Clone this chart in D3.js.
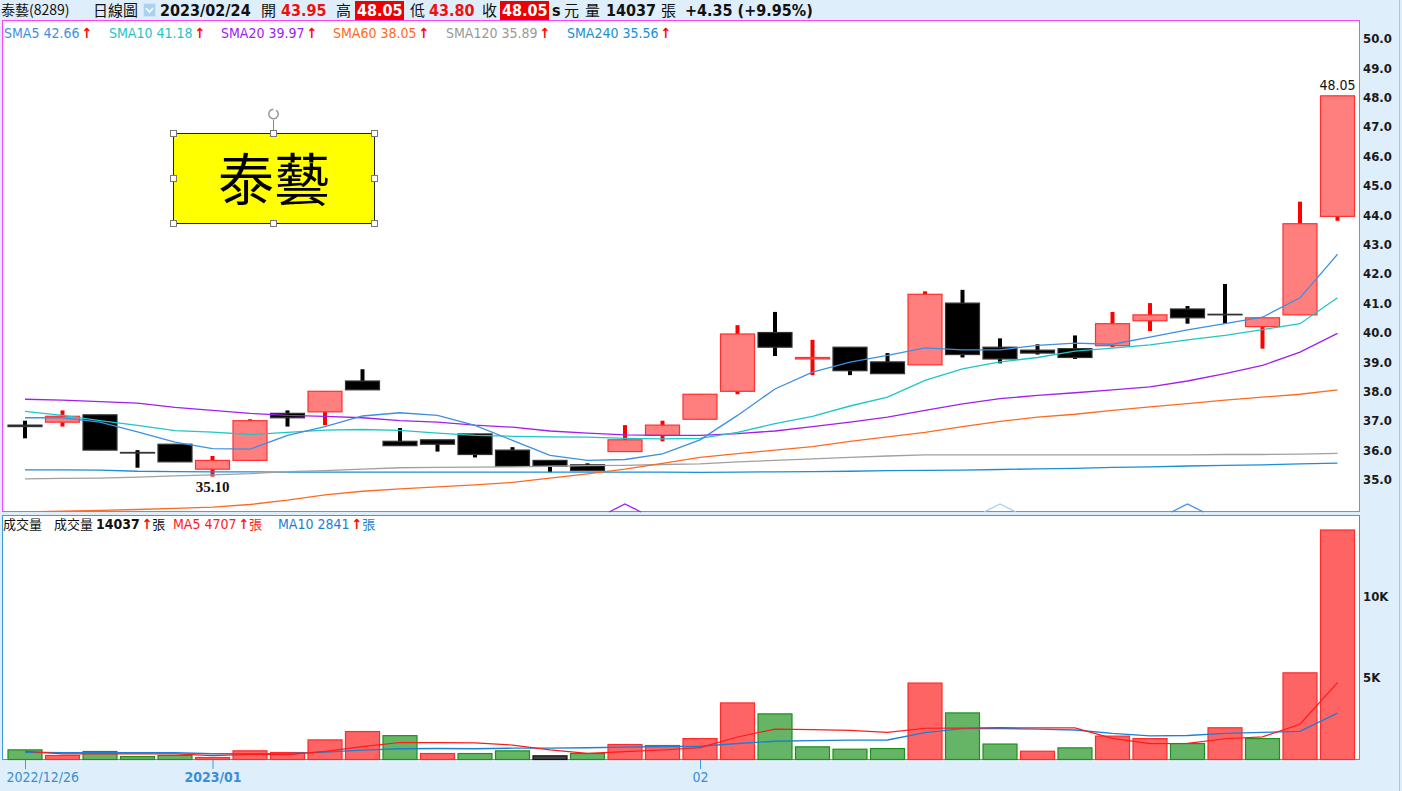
<!DOCTYPE html>
<meta charset="utf-8">
<title>泰藝(8289) 日線圖</title>
<style>
  body { margin: 0; background: #deeefa; }
  text { font-family: "DejaVu Sans Condensed", "DejaVu Sans", sans-serif; font-stretch: condensed; }
  text.cjk, tspan.cjk { font-family: "Noto Sans CJK TC", sans-serif; font-stretch: normal; }
  .axis path.domain { display: none; }
</style>
<body>
<script src="https://cdn.jsdelivr.net/npm/d3@7"></script>
<script>
var dates = ["2022/12/26","2022/12/27","2022/12/28","2022/12/29","2022/12/30",
  "2023/01/03","2023/01/04","2023/01/05","2023/01/06","2023/01/09","2023/01/10","2023/01/11",
  "2023/01/12","2023/01/13","2023/01/16","2023/01/17","2023/01/30","2023/01/31",
  "2023/02/01","2023/02/02","2023/02/03","2023/02/06","2023/02/07","2023/02/08","2023/02/09",
  "2023/02/10","2023/02/13","2023/02/14","2023/02/15","2023/02/16","2023/02/17","2023/02/20",
  "2023/02/21","2023/02/22","2023/02/23","2023/02/24"];

var open  = [36.85,36.95,37.2,35.92,36.2,35.35,35.65,37.25,37.3,38.35,36.3,36.35,36.55,36.0,35.65,35.5,35.95,36.5,
             37.05,38.0,40.0,39.1,39.5,39.0,38.9,41.0,39.5,39.4,39.45,39.55,40.4,40.8,40.62,40.2,40.6,43.95];
var high  = [37.0,37.35,37.2,36.0,36.2,35.8,37.05,37.35,38.0,38.75,36.75,36.35,36.55,36.1,35.65,35.55,36.85,37.0,
             37.9,40.25,40.7,39.75,39.5,39.3,41.4,41.45,39.8,39.6,39.9,40.7,41.0,40.9,41.65,40.5,44.45,48.05];
var low   = [36.4,36.8,36.0,35.4,35.6,35.1,35.65,36.8,36.85,38.05,36.15,35.95,35.75,35.45,35.25,35.3,35.95,36.3,
             37.05,37.9,39.2,38.55,38.55,38.6,38.9,39.15,38.95,39.25,39.1,39.5,40.05,40.3,40.3,39.45,40.6,43.8];
var close = [36.8,37.15,36.0,35.9,35.6,35.65,37.0,37.1,38.0,38.05,36.15,36.2,35.85,35.45,35.45,35.3,36.35,36.85,
             37.9,39.95,39.5,39.15,38.7,38.6,41.3,39.25,39.1,39.3,39.15,40.3,40.6,40.5,40.6,40.5,43.7,48.05];
var prevClose = 36.9;

var volume = [590,245,490,180,245,120,530,425,1200,1710,1460,365,365,530,225,365,915,855,
              1280,3460,2790,775,630,670,4675,2850,945,505,713,1430,1280,975,1940,1280,5300,14037];

var sma5   = [37.1,37.1,36.95,36.62,36.27,36.05,36.03,36.5,36.8,37.16,37.27,37.18,36.84,36.33,35.82,35.65,35.68,35.87,
              36.35,37.18,38.08,38.65,38.99,39.22,39.48,39.41,39.41,39.56,39.64,39.6,39.84,40.09,40.3,40.52,41.18,42.66];
var sma10  = [37.32,37.18,37.0,36.84,36.66,36.61,36.53,36.6,36.68,36.7,36.67,36.58,36.5,36.47,36.45,36.44,36.4,36.38,
              36.4,36.6,36.9,37.15,37.5,37.8,38.37,38.76,39.0,39.15,39.37,39.47,39.58,39.75,39.9,40.1,40.3,41.18];
var sma20  = [37.73,37.7,37.65,37.6,37.45,37.35,37.25,37.18,37.15,37.1,37.0,36.95,36.85,36.78,36.65,36.58,36.52,36.5,
              36.5,36.56,36.65,36.8,36.95,37.12,37.35,37.57,37.75,37.86,37.95,38.05,38.15,38.35,38.6,38.88,39.33,39.97];
var sma60  = [33.9,33.92,33.95,33.98,34.02,34.06,34.15,34.3,34.48,34.6,34.68,34.75,34.82,34.9,35.05,35.19,35.35,35.55,
              35.75,35.88,36.0,36.12,36.3,36.45,36.6,36.8,36.98,37.12,37.22,37.35,37.47,37.58,37.7,37.8,37.9,38.05];
var sma120 = [35.02,35.04,35.05,35.08,35.12,35.16,35.2,35.27,35.3,35.35,35.4,35.41,35.42,35.43,35.45,35.47,35.48,35.51,
              35.53,35.6,35.65,35.7,35.75,35.8,35.84,35.84,35.84,35.84,35.84,35.84,35.84,35.84,35.85,35.85,35.86,35.89];
var sma240 = [35.33,35.33,35.32,35.28,35.27,35.26,35.26,35.25,35.25,35.25,35.25,35.25,35.25,35.25,35.25,35.25,35.25,35.25,
              35.24,35.25,35.26,35.27,35.28,35.3,35.31,35.32,35.34,35.36,35.38,35.41,35.43,35.46,35.48,35.5,35.53,35.56];

var volMa5  = [505,350,350,350,350,240,310,300,500,790,1040,1030,1020,885,590,370,480,580,
               730,1375,1860,1830,1785,1665,1910,1920,1954,1929,1938,1289,975,981,1268,1381,2155,4707];
var volMa10 = [445,410,410,410,410,350,350,350,450,574,661,673,660,695,693,718,756,799,
               807,982,1115,1156,1183,1197,1642,1890,1893,1858,1801,1598,1447,1467,1598,1659,1722,2841];

var smaNames  = ["SMA5","SMA10","SMA20","SMA60","SMA120","SMA240"];
var smaColors = ["#3f8fe0","#1fc6c6","#a020f0","#ff6a22","#a0a0a0","#1a8ed6"];
var markerIdx = [16, 26, 31];
var markerColors = ["#a020f0","#9fd4f5","#3f8fe0"];
var xTicks = ["2022/12/26","2023/01/03","2023/02/01"];
var xTickLabels = ["2022/12/26","2023/01","02"];

var W = 1402, H = 791;
var svg = d3.select("body").append("svg").attr("width", W).attr("height", H);

svg.append("rect").attr("width", W).attr("height", H).attr("fill", "#deeefa");
svg.append("line").attr("x1", 1399.5).attr("x2", 1399.5).attr("y1", 0).attr("y2", H).attr("stroke", "#b8c4cc");

// panels
svg.append("rect").attr("x", 2.5).attr("y", 20.5).attr("width", 1357).attr("height", 491)
  .attr("fill", "#fff").attr("stroke", "#ff40ff");
svg.append("rect").attr("x", 2.5).attr("y", 515.5).attr("width", 1357).attr("height", 244)
  .attr("fill", "#fff").attr("stroke", "#3b9be0");

svg.append("clipPath").attr("id", "pclip").append("rect")
  .attr("x", 3).attr("y", 21).attr("width", 1356).attr("height", 490);

var x = d3.scalePoint().domain(dates).range([25, 1337.5]);
var y = d3.scaleLinear().domain([35, 50]).range([479.5, 38.5]);
var yv = d3.scaleLinear().domain([0, 10000]).range([759.5, 596]);
var bw = 34;

var idx = d3.range(dates.length);
var up = function(i) { return close[i] >= open[i]; };

// candles
var price = svg.append("g").attr("clip-path", "url(#pclip)");
var candles = price.selectAll("g.candle").data(idx).join("g").attr("class", "candle");

candles.append("line")
  .attr("x1", function(i) { return x(dates[i]); })
  .attr("x2", function(i) { return x(dates[i]); })
  .attr("y1", function(i) { return y(high[i]); })
  .attr("y2", function(i) { return y(low[i]); })
  .attr("stroke", function(i) { return up(i) ? "#ff0000" : "#000"; })
  .attr("stroke-width", 4);

candles.append("rect")
  .attr("x", function(i) { return x(dates[i]) - bw / 2; })
  .attr("y", function(i) { return y(Math.max(open[i], close[i])); })
  .attr("width", bw)
  .attr("height", function(i) { return Math.max(0.5, Math.abs(y(open[i]) - y(close[i]))); })
  .attr("fill", function(i) { return up(i) ? "#ff7f7f" : "#000"; })
  .attr("stroke", function(i) { return up(i) ? "#ff3030" : "#333"; })
  .attr("stroke-width", 1.2);

// moving averages
var smaSeries = [sma5, sma10, sma20, sma60, sma120, sma240];
var line = d3.line().x(function(d, i) { return x(dates[i]); }).y(function(d) { return y(d); });
price.selectAll("path.sma").data(smaSeries.slice().reverse()).join("path")
  .attr("class", "sma")
  .attr("d", line)
  .attr("fill", "none")
  .attr("stroke", function(d, k) { return smaColors.slice().reverse()[k]; })
  .attr("stroke-width", 1.3);

// signal markers at panel bottom
svg.selectAll("path.mark").data(markerIdx).join("path")
  .attr("class", "mark")
  .attr("d", function(i) { var cx = x(dates[i]); return "M" + (cx - 16) + ",512L" + cx + ",504L" + (cx + 16) + ",512"; })
  .attr("fill", "none")
  .attr("stroke", function(d, k) { return markerColors[k]; })
  .attr("stroke-width", 1.3);

// high / low labels
var iHi = d3.maxIndex(high), iLo = d3.minIndex(low);
svg.append("text").attr("x", x(dates[iHi])).attr("y", y(high[iHi]) - 6)
  .attr("text-anchor", "middle").attr("font-size", 14).attr("fill", "#111").text(high[iHi].toFixed(2));
svg.append("text").attr("x", x(dates[iLo])).attr("y", y(low[iLo]) + 15)
  .attr("text-anchor", "middle").attr("font-size", 15).attr("font-weight", "bold")
  .style("font-family", "'Liberation Serif', serif").attr("fill", "#111").text(low[iLo].toFixed(2));

// price axis
var yAxis = svg.append("g").attr("class", "axis").attr("transform", "translate(1360,0)")
  .call(d3.axisRight(y).tickValues(d3.range(35, 50.5, 1)).tickFormat(d3.format(".1f")).tickSize(0).tickPadding(3));
yAxis.selectAll("text").attr("font-size", 13).attr("font-weight", "bold").attr("fill", "#1a1a1a")
  .style("font-family", "'DejaVu Sans Condensed','DejaVu Sans',sans-serif");

// volume bars
var vcol = function(i) {
  var p = i === 0 ? prevClose : close[i - 1];
  return close[i] > p ? "up" : (close[i] < p ? "down" : "flat");
};
var vfill = { up: "#ff6464", down: "#66b466", flat: "#444" };
var vstroke = { up: "#ff2a2a", down: "#1e901e", flat: "#111" };
svg.append("g").selectAll("rect").data(idx).join("rect")
  .attr("x", function(i) { return x(dates[i]) - bw / 2; })
  .attr("y", function(i) { return yv(volume[i]); })
  .attr("width", bw)
  .attr("height", function(i) { return yv(0) - yv(volume[i]); })
  .attr("fill", function(i) { return vfill[vcol(i)]; })
  .attr("stroke", function(i) { return vstroke[vcol(i)]; })
  .attr("stroke-width", 1.2);

var vline = d3.line().x(function(d, i) { return x(dates[i]); }).y(function(d) { return yv(d); });
svg.append("path").attr("d", vline(volMa10)).attr("fill", "none").attr("stroke", "#1c7fd2").attr("stroke-width", 1.4);
svg.append("path").attr("d", vline(volMa5)).attr("fill", "none").attr("stroke", "#ff1a1a").attr("stroke-width", 1.2);

var vAxis = svg.append("g").attr("class", "axis").attr("transform", "translate(1360,0)")
  .call(d3.axisRight(yv).tickValues([5000, 10000]).tickFormat(function(d) { return d / 1000 + "K"; }).tickSize(0).tickPadding(3));
vAxis.selectAll("text").attr("font-size", 13).attr("font-weight", "bold").attr("fill", "#1a1a1a");

// time axis
var xAxis = svg.append("g").attr("class", "axis").attr("transform", "translate(0,760)")
  .call(d3.axisBottom(x).tickValues(xTicks).tickFormat(function(d, k) { return xTickLabels[k]; }).tickSize(9).tickPadding(3));
xAxis.selectAll("line").attr("stroke", "#3b9be0");
xAxis.selectAll("text").attr("font-size", 14).attr("fill", "#3a8fd6")
  .attr("font-weight", function(d, k) { return k === 1 ? "bold" : "normal"; });
xAxis.selectAll("text").filter(function(d, k) { return k === 0; })
  .attr("text-anchor", "start").attr("x", 6 - x(xTicks[0]));

// header
var hdr = svg.append("g").attr("font-size", 16);
hdr.append("text").attr("class", "cjk").attr("x", 1).attr("y", 15).attr("font-size", 14).attr("fill", "#111").text("泰藝(8289)");
hdr.append("text").attr("class", "cjk").attr("x", 93).attr("y", 16).attr("font-size", 15).attr("fill", "#111").text("日線圖");
hdr.append("rect").attr("x", 143.5).attr("y", 3.5).attr("width", 12).attr("height", 13).attr("fill", "#a9d2f2").attr("stroke", "#cfe6f8");
hdr.append("path").attr("d", "M146,8L149.5,12L153,8").attr("fill", "none").attr("stroke", "#fff").attr("stroke-width", 1.5);

var last = dates.length - 1;
var chg = close[last] - close[last - 1];
var f2 = d3.format(".2f");
hdr.append("text").attr("x", 160).attr("y", 16).attr("font-weight", "bold").attr("fill", "#111").text(dates[last]);
hdr.append("text").attr("class", "cjk").attr("x", 261).attr("y", 16).attr("font-size", 15).attr("fill", "#111").text("開");
hdr.append("text").attr("x", 281).attr("y", 16).attr("font-weight", "bold").attr("fill", "#ee1111").text(f2(open[last]));
hdr.append("text").attr("class", "cjk").attr("x", 336).attr("y", 16).attr("font-size", 15).attr("fill", "#111").text("高");
hdr.append("rect").attr("x", 355).attr("y", 1).attr("width", 49).attr("height", 19).attr("fill", "#ee0000");
hdr.append("text").attr("x", 357).attr("y", 16).attr("font-weight", "bold").attr("fill", "#fff").text(f2(high[last]));
hdr.append("text").attr("class", "cjk").attr("x", 410).attr("y", 16).attr("font-size", 15).attr("fill", "#111").text("低");
hdr.append("text").attr("x", 429).attr("y", 16).attr("font-weight", "bold").attr("fill", "#ee1111").text(f2(low[last]));
hdr.append("text").attr("class", "cjk").attr("x", 482).attr("y", 16).attr("font-size", 15).attr("fill", "#111").text("收");
hdr.append("rect").attr("x", 500).attr("y", 1).attr("width", 49).attr("height", 19).attr("fill", "#ee0000");
hdr.append("text").attr("x", 502).attr("y", 16).attr("font-weight", "bold").attr("fill", "#fff").text(f2(close[last]));
hdr.append("text").attr("x", 552).attr("y", 16).attr("font-weight", "bold").attr("fill", "#111").text("s");
hdr.append("text").attr("class", "cjk").attr("x", 564).attr("y", 16).attr("font-size", 15).attr("fill", "#111").text("元");
hdr.append("text").attr("class", "cjk").attr("x", 585).attr("y", 16).attr("font-size", 15).attr("fill", "#111").text("量");
hdr.append("text").attr("x", 606).attr("y", 16).attr("font-weight", "bold").attr("fill", "#111").text(volume[last]);
hdr.append("text").attr("class", "cjk").attr("x", 661).attr("y", 16).attr("font-size", 15).attr("fill", "#111").text("張");
hdr.append("text").attr("x", 685).attr("y", 16).attr("font-weight", "bold").attr("fill", "#111")
  .text("+" + f2(chg) + " (+" + f2(chg / close[last - 1] * 100) + "%)");

// SMA legend
var legX = [4, 109, 221, 333, 446, 567];
var leg = svg.append("g").attr("font-size", 14);
smaNames.forEach(function(n, k) {
  var t = leg.append("text").attr("x", legX[k]).attr("y", 38).attr("fill", smaColors[k] === "#a0a0a0" ? "#999" : smaColors[k]);
  t.append("tspan").text(n + " " + f2(smaSeries[k][last]));
  t.append("tspan").attr("fill", "#ff0000").attr("font-weight", "bold").attr("dx", 2).text("↑");
});

// volume legend
var vl = svg.append("g").attr("font-size", 14);
vl.append("text").attr("class", "cjk").attr("x", 3).attr("y", 529).attr("font-size", 13).attr("fill", "#111").text("成交量");
var t1 = vl.append("text").attr("x", 54).attr("y", 529).attr("fill", "#111");
t1.append("tspan").attr("class", "cjk").attr("font-size", 13).text("成交量 ");
t1.append("tspan").attr("font-weight", "bold").text(volume[last]);
t1.append("tspan").attr("fill", "#ff0000").attr("font-weight", "bold").attr("dx", 2).text("↑");
t1.append("tspan").attr("class", "cjk").attr("font-size", 13).text("張");
var t2 = vl.append("text").attr("x", 173).attr("y", 529).attr("fill", "#ff1a1a");
t2.append("tspan").text("MA5 " + volMa5[last]);
t2.append("tspan").attr("font-weight", "bold").attr("dx", 2).text("↑");
t2.append("tspan").attr("class", "cjk").attr("font-size", 13).text("張");
var t3 = vl.append("text").attr("x", 278).attr("y", 529).attr("fill", "#1c7fd2");
t3.append("tspan").text("MA10 " + volMa10[last]);
t3.append("tspan").attr("fill", "#ff0000").attr("font-weight", "bold").attr("dx", 2).text("↑");
t3.append("tspan").attr("class", "cjk").attr("font-size", 13).text("張");

// name tag box
var box = svg.append("g");
box.append("line").attr("x1", 273.5).attr("x2", 273.5).attr("y1", 120).attr("y2", 133).attr("stroke", "#888");
box.append("path").attr("d", d3.arc()({ innerRadius: 4, outerRadius: 5.5, startAngle: 0.6, endAngle: 2 * Math.PI }))
  .attr("transform", "translate(273.5,114)").attr("fill", "#999");
box.append("rect").attr("x", 173.5).attr("y", 133.5).attr("width", 201).attr("height", 90)
  .attr("fill", "#ffff00").attr("stroke", "#222");
box.append("text").attr("class", "cjk").attr("x", 274).attr("y", 200).attr("text-anchor", "middle")
  .attr("font-size", 56).attr("fill", "#000").text("泰藝");
var hx = [173.5, 273.5, 374.5], hy = [133.5, 178.5, 223.5];
hy.forEach(function(yy, r) {
  hx.forEach(function(xx, c) {
    if (r === 1 && c === 1) return;
    box.append("rect").attr("x", xx - 3).attr("y", yy - 3).attr("width", 6).attr("height", 6)
      .attr("fill", "#fff").attr("stroke", "#777");
  });
});
</script>
</body>
